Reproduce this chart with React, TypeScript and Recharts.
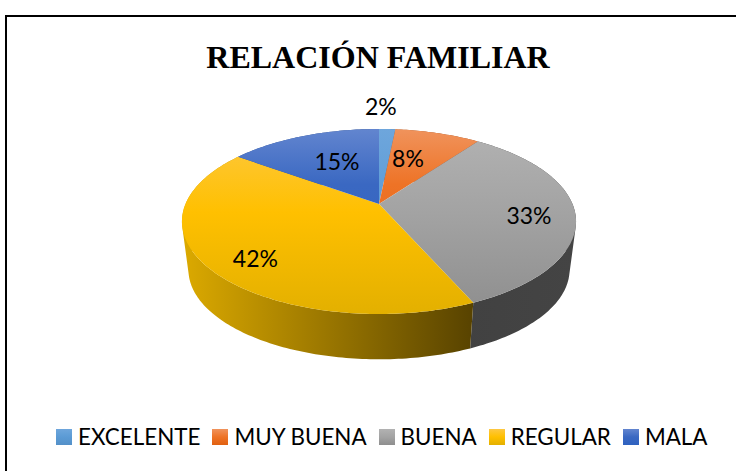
import React from 'react';
import { PieChart, Pie, Cell, Legend } from 'recharts';

const categories = ['EXCELENTE', 'MUY BUENA', 'BUENA', 'REGULAR', 'MALA'];
// slices, they round to the printed 2/8/33/42/15
const shares = [1.6, 8.4, 33.4, 41.6, 15];

const topColors = [
  ['#6ea6dc', '#5b9bd5', '#5490c8'],
  ['#f0935c', '#ee7326', '#e06010'],
  ['#b2b2b2', '#a3a3a3', '#8e8e8e'],
  ['#fdc843', '#ffc000', '#e3b000'],
  ['#6285cf', '#3a68c2', '#2f62c0'],
];
const wallColors = [
  ['#4a7fb0', '#3a6690'],
  ['#c0622a', '#96491c'],
  ['#3a3a3a', '#444444'],
  ['#dcaa00', '#574200'],
  ['#34569a', '#284378'],
];

// nudges for the data labels: distance from apex and turn from the slice middle
const labelRadius = [1.38, 0.595, 0.767, 0.79, 0.581];
const labelTurn = [-2.4, -4.7, 3, -4.6, 2.7];

const data = categories.map((name, i) => ({ name, value: shares[i] }));

// perspective of the tilted disc
const TILT = 0.189;
const SQUASH = 0.461;
const SHRINK = 0.967;
const VANISH_Y = 1687;
const CX = 379;
const CY = 204;
const R = 193.5;

type Pt = { x: number; y: number };

const project = (angle: number, r = 1): Pt => {
  const theta = ((90 - angle) * Math.PI) / 180;
  const d = 1 + TILT * r * Math.cos(theta);
  return {
    x: CX + (R * r * Math.sin(theta)) / d,
    y: CY - (R * SQUASH * r * Math.cos(theta)) / d,
  };
};

const lower = (p: Pt): Pt => ({
  x: CX + SHRINK * (p.x - CX),
  y: VANISH_Y + SHRINK * (p.y - VANISH_Y),
});

const arcPoints = (start: number, end: number) => {
  const steps = Math.max(2, Math.ceil(Math.abs(end - start)));
  const pts: Pt[] = [];
  for (let i = 0; i <= steps; i++) pts.push(project(start + ((end - start) * i) / steps));
  return pts;
};

const toPath = (pts: Pt[]) =>
  'M' + pts.map((p) => `${p.x.toFixed(2)},${p.y.toFixed(2)}`).join('L') + 'Z';

const signedArea = (pts: Pt[]) =>
  pts.reduce((sum, p, i) => {
    const q = pts[(i + 1) % pts.length];
    return sum + p.x * q.y - q.x * p.y;
  }, 0);

const TopSlice = (props: any) => {
  const apex = project(0, 0);
  return <path d={toPath([apex, ...arcPoints(props.startAngle, props.endAngle)])} fill={props.fill} />;
};

// the wall is swept step by step, all quads wound the same way so they never cancel
const WallSlice = (props: any) => {
  const arc = arcPoints(props.startAngle, props.endAngle);
  const quads = arc.slice(1).map((p, i) => {
    const quad = [arc[i], p, lower(p), lower(arc[i])];
    return toPath(signedArea(quad) < 0 ? quad.reverse() : quad);
  });
  return <path d={quads.join('')} fill={props.fill} />;
};

const renderLabel = (props: any) => {
  const i = props.index;
  const p = project(props.midAngle - labelTurn[i], labelRadius[i]);
  return (
    <text
      key={i}
      x={p.x}
      y={p.y}
      textAnchor="middle"
      dominantBaseline="central"
      fill="#000"
      fontFamily="Lato"
      fontSize={23}
    >
      {Math.round(props.value)}%
    </text>
  );
};

const renderLegend = () => (
  <div style={{ display: 'flex', marginLeft: 56, fontFamily: 'Lato', fontSize: 22.4, color: '#000' }}>
    {categories.map((name, i) => (
      <div key={name} style={{ display: 'flex', alignItems: 'center', marginRight: 12 }}>
        <span
          style={{
            width: 16,
            height: 16,
            marginRight: 6,
            background: `linear-gradient(${topColors[i][0]}, ${topColors[i][1]} 50%, ${topColors[i][2]})`,
          }}
        />
        <span>{name}</span>
      </div>
    ))}
  </div>
);

export default function App() {
  return (
    <div style={{ position: 'absolute', left: 0, top: 0, width: 736, height: 471, overflow: 'hidden', background: '#fff' }}>
      <div
        style={{
          position: 'absolute',
          left: 5,
          top: 15,
          width: 731,
          height: 456,
          borderLeft: '2px solid #000',
          borderTop: '2px solid #000',
          boxSizing: 'border-box',
        }}
      />
      <PieChart width={736} height={471} style={{ position: 'absolute', left: 0, top: 0 }}>
        <defs>
          {topColors.map((c, i) => (
            <linearGradient key={i} id={`top${i}`} gradientUnits="userSpaceOnUse" x1="0" y1="129" x2="0" y2="314">
              <stop offset="0" stopColor={c[0]} />
              <stop offset={i === 1 || i === 4 ? 0.3 : 0.45} stopColor={c[1]} />
              <stop offset="1" stopColor={c[2]} />
            </linearGradient>
          ))}
          {wallColors.map((c, i) => (
            <linearGradient key={i} id={`wall${i}`} gradientUnits="userSpaceOnUse" x1="182" y1="0" x2={i === 2 ? '575' : '475'} y2="0">
              <stop offset="0" stopColor={c[0]} />
              <stop offset="1" stopColor={c[1]} />
            </linearGradient>
          ))}
        </defs>
        <text x={378} y={68} textAnchor="middle" fontFamily="Liberation Serif" fontWeight="bold" fontSize={32} fill="#000">
          RELACIÓN FAMILIAR
        </text>
        <Pie
          data={data}
          dataKey="value"
          nameKey="name"
          cx={CX}
          cy={CY}
          outerRadius={R}
          startAngle={90}
          endAngle={-270}
          stroke="none"
          legendType="none"
          shape={WallSlice}
          isAnimationActive={false}
        >
          {data.map((d, i) => (
            <Cell key={d.name} fill={`url(#wall${i})`} />
          ))}
        </Pie>
        <Pie
          data={data}
          dataKey="value"
          nameKey="name"
          cx={CX}
          cy={CY}
          outerRadius={R}
          startAngle={90}
          endAngle={-270}
          stroke="none"
          shape={TopSlice}
          label={renderLabel}
          labelLine={false}
          isAnimationActive={false}
        >
          {data.map((d, i) => (
            <Cell key={d.name} fill={`url(#top${i})`} />
          ))}
        </Pie>
        <Legend content={renderLegend} wrapperStyle={{ left: 0, top: 423, width: 736, bottom: 'auto' }} />
      </PieChart>
    </div>
  );
}
